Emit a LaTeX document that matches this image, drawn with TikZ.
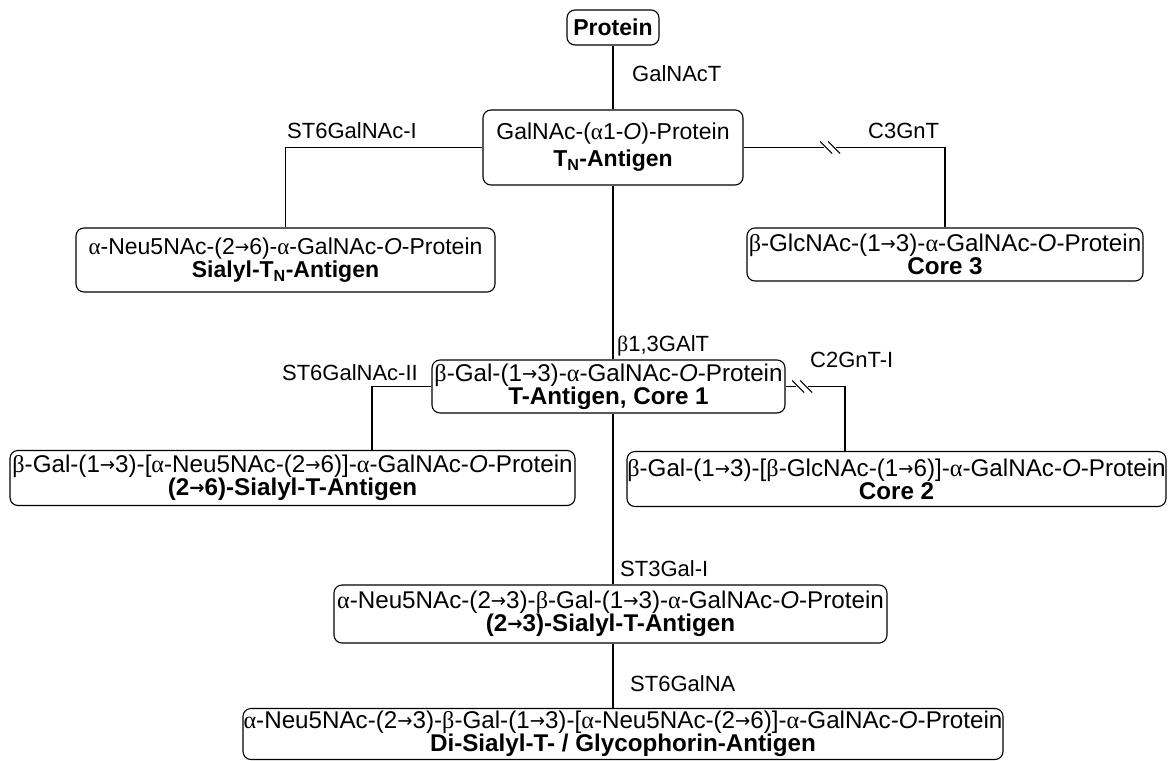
\documentclass[tikz,border=0pt]{standalone}
\usepackage{fontspec}
\setmainfont{Liberation Sans}
\newfontfamily\grkfont{Liberation Serif}
\newfontfamily\arrfont{DejaVu Sans}
\newcommand\alf{{\grkfont α}}
\newcommand\bet{{\grkfont β}}
\newcommand\arr{\raisebox{1pt}{\scalebox{0.75}[0.8]{\arrfont →}}}

\begin{document}
\begin{tikzpicture}[x=1pt,y=-1pt]
    \tikzset{
        box/.style={draw, rounded corners=8pt, line width=1.1pt, align=center, inner sep=0pt,
            font=\fontsize{24.2}{23}\selectfont},
        small/.style={font=\fontsize{23}{23}\selectfont},
        lbl/.style={inner sep=0pt, font=\fontsize{22}{22}\selectfont},
        link/.style={line width=1.1pt},
        cut/.pic={
            \fill[white] (-6,-2) rectangle (6,2);
            \draw[line width=1pt] (-10,-6) -- (2,6) (-2,-6) -- (10,6);
        }
    }
    \useasboundingbox (0,0) rectangle (1171,761);

    \node[box, small, minimum width=92pt, minimum height=35pt] (prot) at (613,27.5) {\textbf{Protein}};
    \node[box, small, minimum width=260pt, minimum height=75pt] (tn) at (613,147.5)
        {GalNAc-(\alf1-\textit{O})-Protein\\[4pt] \textbf{T\textsubscript{N}-Antigen}};
    \node[box, small, minimum width=419pt, minimum height=64pt] (stn) at (285.5,260)
        {\alf-Neu5NAc-(2\arr6)-\alf-GalNAc-\textit{O}-Protein\\ \textbf{Sialyl-T\textsubscript{N}-Antigen}};
    \node[box, minimum width=396pt, minimum height=53pt] (core3) at (945,254.5)
        {\bet-GlcNAc-(1\arr3)-\alf-GalNAc-\textit{O}-Protein\\ \textbf{Core 3}};
    \node[box, minimum width=353pt, minimum height=53pt] (tant) at (608.5,386.5)
        {\bet-Gal-(1\arr3)-\alf-GalNAc-\textit{O}-Protein\\ \textbf{T-Antigen, Core 1}};
    \node[box, minimum width=565pt, minimum height=55pt] (st26) at (292.5,478)
        {\bet-Gal-(1\arr3)-[\alf-Neu5NAc-(2\arr6)]-\alf-GalNAc-\textit{O}-Protein\\ \textbf{(2\arr6)-Sialyl-T-Antigen}};
    \node[box, minimum width=539pt, minimum height=55pt] (core2) at (896.5,479)
        {\bet-Gal-(1\arr3)-[\bet-GlcNAc-(1\arr6)]-\alf-GalNAc-\textit{O}-Protein\\ \textbf{Core 2}};
    \node[box, minimum width=553pt, minimum height=58pt] (st23) at (610.5,614)
        {\alf-Neu5NAc-(2\arr3)-\bet-Gal-(1\arr3)-\alf-GalNAc-\textit{O}-Protein\\ \textbf{(2\arr3)-Sialyl-T-Antigen}};
    \node[box, minimum width=760pt, minimum height=51pt] (disia) at (623,734)
        {\alf-Neu5NAc-(2\arr3)-\bet-Gal-(1\arr3)-[\alf-Neu5NAc-(2\arr6)]-\alf-GalNAc-\textit{O}-Protein\\
         \textbf{Di-Sialyl-T- / Glycophorin-Antigen}};

    % enzymes
    \node[lbl, anchor=base west] (galnact) at (632,81) {GalNAcT};
    \node[lbl, anchor=base west] (st6i) at (287,138) {ST6GalNAc-I};
    \node[lbl, anchor=base west] (c3gnt) at (868,138) {C3GnT};
    \node[lbl, anchor=base west] (galt) at (617,351) {\bet1,3GAlT};
    \node[lbl, anchor=base east] (st6ii) at (418,380) {ST6GalNAc-II};
    \node[lbl, anchor=base west] (c2gnt) at (810,367) {C2GnT-I};
    \node[lbl, anchor=base west] (st3) at (620,576) {ST3Gal-I};
    \node[lbl, anchor=base west] (st6na) at (630,691) {ST6GalNA};

    % links
    \draw[link] (prot.south) -- (tn.north);
    \draw[link] (tn.west) -| (stn.north);
    \draw[link] (tn.east) -| (core3.north);
    \path (tn.east) -- (tn.east -| core3.north) pic[pos=0.43] {cut};
    \draw[link] (tn.south) -- (tn.south |- tant.north);
    \draw[link] (tant.west) -| ([xshift=79.5pt]st26.north);
    \draw[link] (tant.east) -| ([xshift=-51.5pt]core2.north);
    \path (tant.east) -- (tant.east -| core2.north) pic[pos=0.15] {cut};
    \draw[link] (tn.south |- tant.south) -- (tn.south |- st23.north);
    \draw[link] (tn.south |- st23.south) -- (tn.south |- disia.north);
\end{tikzpicture}
\end{document}
